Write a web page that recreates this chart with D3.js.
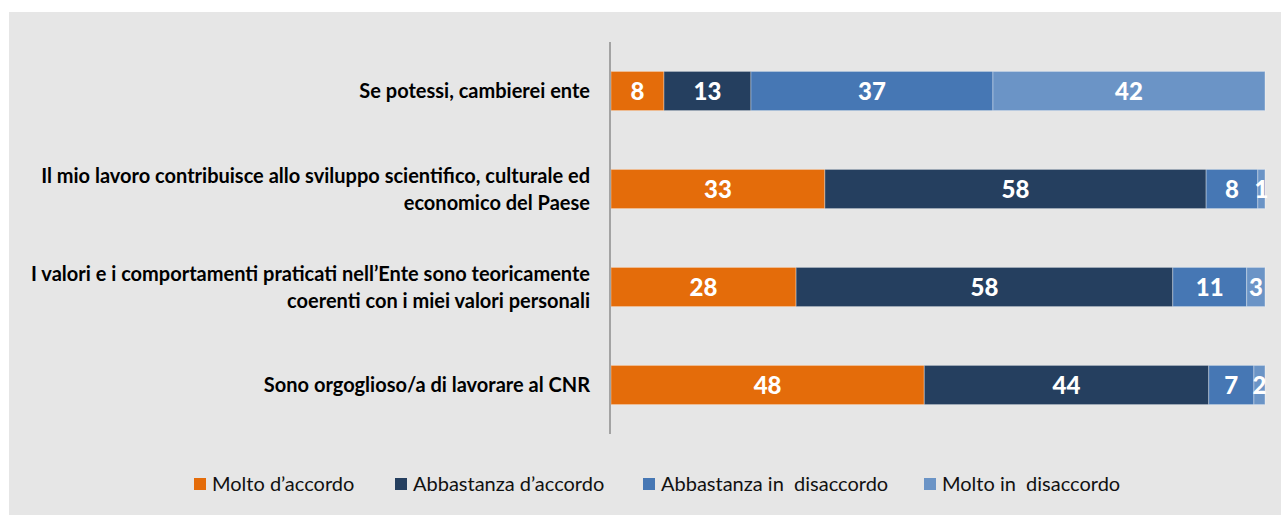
<!DOCTYPE html>
<html>
<head>
<meta charset="utf-8">
<script src="https://cdn.jsdelivr.net/npm/d3@7"></script>
<style>
  body { margin: 0; background: #fff; }
  text { font-family: Lato, "Open Sans", sans-serif; }
</style>
</head>
<body>
<div id="chart"></div>
<script>
// categories, top to bottom (each entry = lines of the label)
var categories = [
    ["Se potessi, cambierei ente"],
    ["Il mio lavoro contribuisce allo sviluppo scientifico, culturale ed", "economico del Paese"],
    ["I valori e i comportamenti praticati nell\u2019Ente sono teoricamente", "coerenti con i miei valori personali"],
    ["Sono orgoglioso/a di lavorare al CNR"]
];
var seriesNames = ["Molto d\u2019accordo", "Abbastanza d\u2019accordo", "Abbastanza in  disaccordo", "Molto in  disaccordo"];
var seriesColors = ["#e46c0a", "#253f5f", "#4677b4", "#6b94c6"];

// percentages per series, one value per category
var moltoAccordo = [8.1, 32.7, 28.3, 47.9];
var abbastanzaAccordo = [13.3, 58.3, 57.6, 43.5];
var abbastanzaDisaccordo = [37.0, 7.9, 11.3, 6.9];
var moltoDisaccordo = [41.6, 1.1, 2.8, 1.7];

var series = [moltoAccordo, abbastanzaAccordo, abbastanzaDisaccordo, moltoDisaccordo];

var W = 1281, H = 515;
var svg = d3.select("#chart").append("svg")
    .attr("width", W)
    .attr("height", H);

svg.append("rect")
    .attr("x", 9).attr("y", 12)
    .attr("width", W - 9).attr("height", H - 12)
    .attr("fill", "#e6e6e6");

var x = d3.scaleLinear().domain([0, 100]).range([611, 1265]);
var y = d3.scaleBand()
    .domain(d3.range(categories.length))
    .range([42, 434])
    .paddingInner(0.6)
    .paddingOuter(0.3);

// stack the series per category
var rows = categories.map(function(c, i) {
    var acc = 0;
    return series.map(function(s, k) {
        var seg = { row: i, k: k, v: s[i], x0: acc, x1: acc + s[i] };
        acc += s[i];
        return seg;
    });
});
var segs = d3.merge(rows);

var bars = svg.append("g");
bars.selectAll("rect")
    .data(segs)
    .enter().append("rect")
    .attr("x", function(d) { return x(d.x0); })
    .attr("y", function(d) { return y(d.row); })
    .attr("width", function(d) { return x(d.x1) - x(d.x0); })
    .attr("height", y.bandwidth())
    .attr("fill", function(d) { return seriesColors[d.k]; })
    .attr("stroke", "rgba(255,255,255,0.35)")
    .attr("stroke-width", 1);

bars.selectAll("text")
    .data(segs)
    .enter().append("text")
    .attr("x", function(d) { return (x(d.x0) + x(d.x1)) / 2; })
    .attr("y", function(d) { return y(d.row) + y.bandwidth() / 2; })
    .attr("dy", "0.36em")
    .attr("text-anchor", "middle")
    .attr("fill", "#fff")
    .style("font-weight", "900")
    .style("font-size", "24px")
    .text(function(d) { return Math.round(d.v); });

// category axis line
svg.append("line")
    .attr("x1", 610).attr("x2", 610)
    .attr("y1", 42).attr("y2", 434)
    .attr("stroke", "#8c8c8c")
    .attr("stroke-width", 1.5);

// category labels
var labels = svg.append("g");
categories.forEach(function(lines, i) {
    var cy = y(i) + y.bandwidth() / 2;
    lines.forEach(function(line, j) {
        labels.append("text")
            .attr("x", 590)
            .attr("y", cy + (j - (lines.length - 1) / 2) * 27)
            .attr("dy", "0.36em")
            .attr("text-anchor", "end")
            .attr("fill", "#000")
            .style("font-weight", "bold")
            .style("font-size", "20px")
            .text(line);
    });
});

// legend
var legendX = [194, 395, 643, 924];
var legend = svg.append("g");
seriesNames.forEach(function(name, k) {
    legend.append("rect")
        .attr("x", legendX[k]).attr("y", 478)
        .attr("width", 12).attr("height", 12)
        .attr("fill", seriesColors[k]);
    legend.append("text")
        .attr("x", legendX[k] + 18)
        .attr("y", 484)
        .attr("dy", "0.36em")
        .attr("fill", "#111")
        .style("font-size", "20px")
        .style("white-space", "pre")
        .text(name);
});
</script>
</body>
</html>
